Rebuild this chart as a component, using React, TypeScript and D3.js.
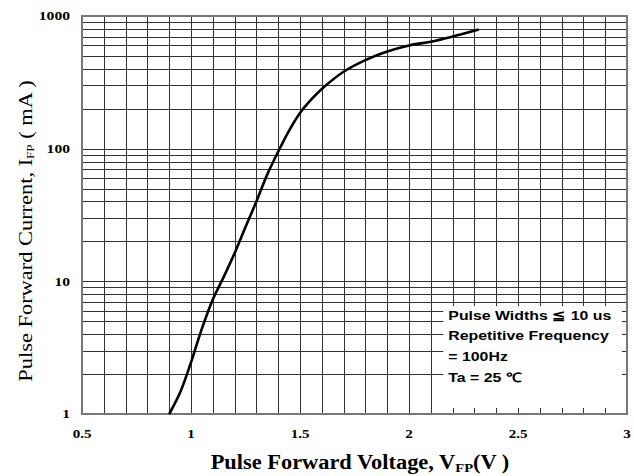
import React, { Component } from 'react';
import * as d3 from 'd3';

const margin = { top: 16, bottom: 62, left: 82, right: 7 };
const width = 634;
const height = 476;

const voltage = [0.9, 0.95, 1.0, 1.03, 1.06, 1.1, 1.15, 1.2, 1.25, 1.3, 1.35, 1.4, 1.45, 1.5, 1.55, 1.6, 1.7, 1.8, 1.9, 2.0, 2.1, 2.2, 2.32];
const current = [1, 1.45, 2.45, 3.5, 4.9, 7.3, 10.8, 16.3, 25.7, 40, 64, 95, 137, 186, 233, 282, 380, 465, 540, 600, 640, 700, 790];

const xTicks = [0.5, 1, 1.5, 2, 2.5, 3];
const xTickLabels = ['0.5', '1', '1.5', '2', '2.5', '3'];
const yTicks = [1, 10, 100, 1000];
const yTickLabels = ['1', '10', '100', '1000'];

const legendLines = ['Pulse Widths \u2266 10 us', 'Repetitive Frequency', '= 100Hz', 'Ta = 25 \u2103'];

class App extends Component {
  root: SVGSVGElement | null = null;

  componentDidMount() {
    this.draw();
  }

  draw() {
    const svg = d3.select(this.root);
    svg.selectAll('*').remove();

    const w = width - margin.left - margin.right;
    const h = height - margin.top - margin.bottom;

    const x = d3.scaleLinear().domain([0.5, 3]).range([0, w]);
    const y = d3.scaleLog().domain([1, 1000]).range([h, 0]);

    const g = svg
      .append('g')
      .attr('transform', 'translate(' + margin.left + ',' + margin.top + ')');

    // grid: every 0.1 V and every 1..9 of each decade
    const vLines = d3.range(6, 30).map(d => d / 10);
    const hLines: number[] = [];
    [1, 10, 100].forEach(dec => d3.range(2, 11).forEach(k => hLines.push(dec * k)));

    g.selectAll('.vgrid')
      .data(vLines)
      .enter()
      .append('line')
      .attr('x1', d => Math.round(x(d)) + 0.5)
      .attr('x2', d => Math.round(x(d)) + 0.5)
      .attr('y1', 0)
      .attr('y2', h)
      .attr('stroke', '#333')
      .attr('stroke-width', 1);

    g.selectAll('.hgrid')
      .data(hLines)
      .enter()
      .append('line')
      .attr('x1', 0)
      .attr('x2', w)
      .attr('y1', d => Math.round(y(d)) + 0.5)
      .attr('y2', d => Math.round(y(d)) + 0.5)
      .attr('stroke', '#333')
      .attr('stroke-width', 1);

    // legend box blanks out the grid behind it
    const bx = x(2.1) + 12.5;
    const by = y(6.5);
    g.append('rect')
      .attr('x', bx)
      .attr('y', by)
      .attr('width', w - 5 - bx)
      .attr('height', h - 6 - by)
      .attr('fill', '#fff');

    g.append('rect')
      .attr('x', 0)
      .attr('y', 0)
      .attr('width', w)
      .attr('height', h)
      .attr('fill', 'none')
      .attr('stroke', '#777')
      .attr('stroke-width', 2);

    const line = d3
      .line<number>()
      .x((d, i) => x(voltage[i]))
      .y(d => y(d))
      .curve(d3.curveCatmullRom);

    g.append('path')
      .datum(current)
      .attr('d', line)
      .attr('fill', 'none')
      .attr('stroke', '#000')
      .attr('stroke-width', 2.6);

    // the original's lettering is stretched sideways, so scale x a bit
    g.selectAll('.ylab')
      .data(yTicks)
      .enter()
      .append('text')
      .attr('transform', d => 'translate(-12,' + y(d) + ') scale(1.3,1)')
      .attr('dy', '0.35em')
      .attr('text-anchor', 'end')
      .style('font', 'bold 12px "Liberation Serif", serif')
      .text((d, i) => yTickLabels[i]);

    g.selectAll('.xlab')
      .data(xTicks)
      .enter()
      .append('text')
      .attr('transform', d => 'translate(' + x(d) + ',' + (h + 24) + ') scale(1.25,1)')
      .attr('text-anchor', 'middle')
      .style('font', 'bold 12px "Liberation Serif", serif')
      .text((d, i) => xTickLabels[i]);

    g.selectAll('.leg')
      .data(legendLines)
      .enter()
      .append('text')
      .attr('transform', (d, i) => 'translate(' + (bx + 5) + ',' + (303.5 + i * 20.7) + ') scale(1.22,1)')
      .style('font', 'bold 13px "Liberation Sans", Arial, sans-serif')
      .text(d => d);

    const xt = svg
      .append('text')
      .attr('transform', 'translate(360,469) scale(1.12,1)')
      .attr('text-anchor', 'middle')
      .style('font', 'bold 20px "Liberation Serif", serif');
    xt.append('tspan').text('Pulse Forward Voltage, V');
    xt.append('tspan').attr('dy', 3).style('font-size', '13px').text('FP');
    xt.append('tspan').attr('dy', -3).text('(V )');

    const yt = svg
      .append('text')
      .attr('transform', 'translate(32,231) rotate(-90) scale(1.18,1)')
      .attr('text-anchor', 'middle')
      .style('font', '19px "Liberation Serif", serif');
    yt.append('tspan').text('Pulse Forward Current, I');
    yt.append('tspan').attr('dy', 2).style('font-size', '11px').text('FP');
    yt.append('tspan').attr('dy', -2).text(' ( mA )');
  }

  render() {
    return (
      <svg
        width={width}
        height={height}
        style={{ position: 'absolute', left: 0, top: 0, background: '#fff' }}
        ref={root => {
          this.root = root;
        }}
      />
    );
  }
}

export default App;
